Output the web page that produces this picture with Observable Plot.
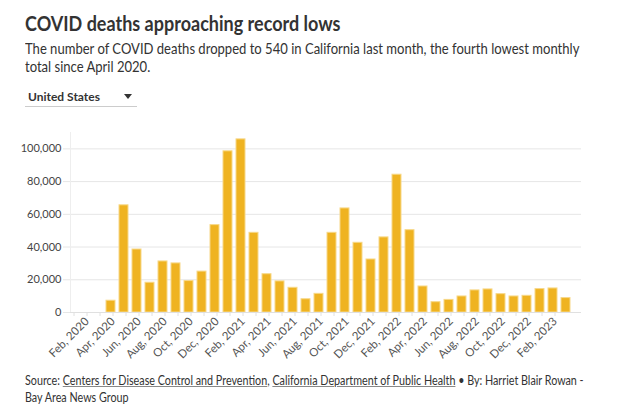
<!DOCTYPE html>
<html>
<head>
<meta charset="utf-8">
<script src="https://cdn.jsdelivr.net/npm/d3@7"></script>
<script src="https://cdn.jsdelivr.net/npm/@observablehq/plot@0.6"></script>
<style>
  html, body { margin: 0; padding: 0; background: #fff; width: 620px; height: 416px; overflow: hidden; }
  body { font-family: Lato, "Open Sans", sans-serif; color: #333; position: relative; }
  .abs { position: absolute; white-space: nowrap; transform-origin: 0 0; }
  #title { left: 25px; top: 11px; font-size: 20px; font-weight: 700; color: #333; line-height: 24px; transform: scaleX(0.9); }
  #subtitle { left: 25px; top: 39px; font-size: 15px; color: #333; line-height: 18px; transform: scaleX(0.87); }
  #dropdown { left: 25px; top: 88px; width: 112px; height: 18px; border-bottom: 1px solid #ccc; }
  #dropdown .lab { position: absolute; left: 3px; top: 1px; font-size: 12px; font-weight: 700; color: #333; }
  #dropdown .tri { position: absolute; left: 99px; top: 6px; width: 0; height: 0; border-left: 4px solid transparent; border-right: 4px solid transparent; border-top: 5px solid #333; }
  #chart { position: absolute; left: 0; top: 120px; }
  #footer { left: 25px; top: 372px; font-size: 12.5px; color: #333; line-height: 17px; transform: scaleX(0.86); }
  #footer a { color: #333; text-decoration: underline; text-decoration-color: #888; }
</style>
</head>
<body>
<div id="chart"></div>
<div id="title" class="abs">COVID deaths approaching record lows</div>
<div id="subtitle" class="abs">The number of COVID deaths dropped to 540 in California last month, the fourth lowest monthly<br>total since April 2020.</div>
<div id="dropdown" class="abs"><span class="lab">United States</span><span class="tri"></span></div>
<div id="footer" class="abs">Source: <a>Centers for Disease Control and Prevention</a>, <a>California Department of Public Health</a> • By: Harriet Blair Rowan -<br>Bay Area News Group</div>
<script>
const months = [
  "2020-01","2020-02","2020-03","2020-04","2020-05","2020-06","2020-07","2020-08","2020-09","2020-10","2020-11","2020-12",
  "2021-01","2021-02","2021-03","2021-04","2021-05","2021-06","2021-07","2021-08","2021-09","2021-10","2021-11","2021-12",
  "2022-01","2022-02","2022-03","2022-04","2022-05","2022-06","2022-07","2022-08","2022-09","2022-10","2022-11","2022-12",
  "2023-01","2023-02"
];
const deaths = [
  null, null, 7200, 65500, 38500, 18200, 31200, 30000, 19200, 25000, 53400, 98500,
  105800, 48700, 23400, 19000, 15100, 8100, 11400, 48700, 63600, 42600, 32400, 45900,
  84200, 50300, 15900, 6300, 7700, 9800, 13500, 14100, 11200, 9800, 10200, 14300,
  14700, 8800
];
const monthNames = ["Jan","Feb","Mar","Apr","May","Jun","Jul","Aug","Sep","Oct","Nov","Dec"];
const yTicks = [0, 20000, 40000, 60000, 80000, 100000];

const data = months.map((m, i) => ({month: m, deaths: deaths[i]}));
const fmtMonth = (m) => {
  const [y, mo] = m.split("-").map(Number);
  return (mo % 2 === 0) ? `${monthNames[mo - 1]}, ${y}` : "";
};

const chart = Plot.plot({
  width: 620,
  height: 250,
  marginLeft: 70,
  marginRight: 39,
  marginTop: 12,
  marginBottom: 58,
  style: {fontFamily: "Lato, 'Open Sans', sans-serif", fontSize: "11px", color: "#444", background: "transparent"},
  x: {type: "band", domain: months, paddingInner: 0.28, paddingOuter: 0.12, label: null},
  y: {domain: [0, 110000], label: null},
  marks: [
    Plot.gridY(yTicks, {stroke: "#e6e6e6", strokeOpacity: 1}),
    Plot.frame({anchor: "left", stroke: "#eeeeee", strokeOpacity: 1}),
    Plot.axisY(yTicks, {tickSize: 7, tickPadding: 2, stroke: "#e6e6e6", strokeOpacity: 1, fill: "#444", tickFormat: d3.format(","), label: null, fontSize: 11}),
    Plot.axisX({tickRotate: -45, tickSize: 4, tickPadding: 3, stroke: "#e0e0e0", strokeOpacity: 1, fill: "#555", tickFormat: fmtMonth, label: null, fontSize: 11.5, dx: -11, dy: 0}),
    Plot.barY(data, {x: "month", y: "deaths", fill: "#efb321", stroke: "#f7d888", strokeWidth: 1}),
    Plot.ruleY([0], {stroke: "#e0e0e0"})
  ]
});
document.getElementById("chart").appendChild(chart);
</script>
</body>
</html>
